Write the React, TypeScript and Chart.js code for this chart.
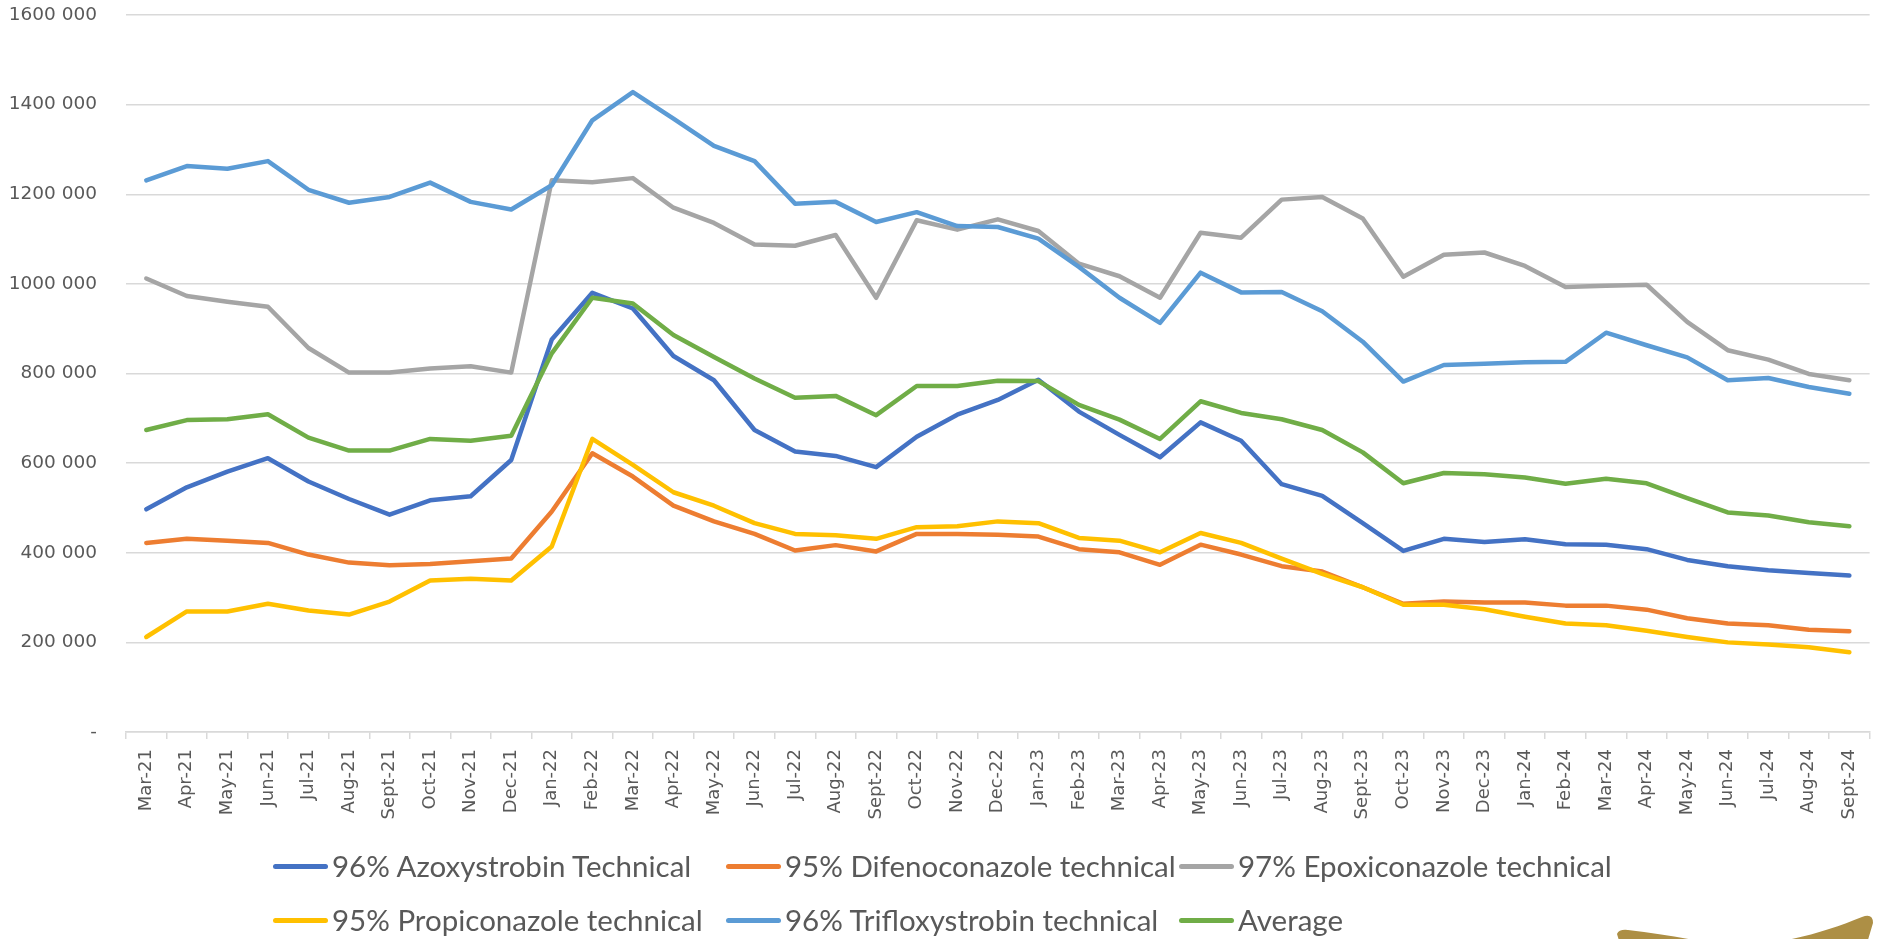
import React, { useEffect, useRef } from "react";
import { Chart, registerables } from "chart.js";

Chart.register(...registerables);

const months: string[] = [
  "Mar-21", "Apr-21", "May-21", "Jun-21", "Jul-21", "Aug-21", "Sept-21", "Oct-21", "Nov-21", "Dec-21",
  "Jan-22", "Feb-22", "Mar-22", "Apr-22", "May-22", "Jun-22", "Jul-22", "Aug-22", "Sept-22", "Oct-22", "Nov-22", "Dec-22",
  "Jan-23", "Feb-23", "Mar-23", "Apr-23", "May-23", "Jun-23", "Jul-23", "Aug-23", "Sept-23", "Oct-23", "Nov-23", "Dec-23",
  "Jan-24", "Feb-24", "Mar-24", "Apr-24", "May-24", "Jun-24", "Jul-24", "Aug-24", "Sept-24",
];

const azoxystrobin: number[] = [
  497000, 546000, 581000, 611000, 559000, 520000, 485000, 517000, 526000, 607000,
  876000, 980000, 945000, 839000, 785000, 674000, 626000, 616000, 591000, 659000, 708000, 741000,
  786000, 715000, 663000, 613000, 691000, 650000, 553000, 527000, 466000, 404000, 431000, 424000,
  430000, 419000, 418000, 408000, 384000, 370000, 361000, 355000, 349000,
];

const difenoconazole: number[] = [
  422000, 431000, 427000, 422000, 396000, 378000, 372000, 375000, 381000, 387000,
  492000, 622000, 570000, 505000, 470000, 442000, 405000, 417000, 403000, 442000, 442000, 440000,
  436000, 408000, 401000, 373000, 418000, 396000, 370000, 358000, 323000, 286000, 291000, 289000,
  289000, 282000, 282000, 273000, 254000, 242000, 238000, 228000, 225000,
];

const epoxiconazole: number[] = [
  1012000, 973000, 960000, 949000, 857000, 802000, 802000, 811000, 816000, 802000,
  1231000, 1227000, 1236000, 1170000, 1136000, 1088000, 1085000, 1109000, 969000, 1142000, 1121000, 1144000,
  1118000, 1045000, 1017000, 969000, 1114000, 1103000, 1188000, 1194000, 1146000, 1016000, 1065000, 1070000,
  1040000, 993000, 996000, 998000, 915000, 852000, 831000, 799000, 785000,
];

const propiconazole: number[] = [
  212000, 269000, 269000, 286000, 271000, 262000, 291000, 338000, 342000, 338000,
  414000, 654000, 596000, 535000, 505000, 466000, 442000, 439000, 431000, 457000, 459000, 470000,
  466000, 433000, 427000, 401000, 444000, 422000, 387000, 353000, 323000, 284000, 284000, 274000,
  257000, 242000, 238000, 226000, 212000, 200000, 195000, 189000, 178000,
];

const trifloxystrobin: number[] = [
  1231000, 1263000, 1257000, 1274000, 1210000, 1181000, 1194000, 1226000, 1183000, 1166000,
  1220000, 1365000, 1428000, 1369000, 1308000, 1274000, 1179000, 1183000, 1138000, 1160000, 1129000, 1127000,
  1101000, 1038000, 969000, 913000, 1025000, 981000, 982000, 939000, 871000, 782000, 819000, 822000,
  825000, 826000, 891000, 863000, 836000, 785000, 790000, 770000, 755000,
];

const average: number[] = [
  674000, 696000, 698000, 709000, 657000, 628000, 628000, 654000, 650000, 661000,
  845000, 969000, 956000, 886000, 837000, 789000, 746000, 750000, 707000, 772000, 772000, 784000,
  783000, 730000, 697000, 654000, 738000, 712000, 698000, 674000, 624000, 555000, 578000, 575000,
  568000, 554000, 565000, 555000, 522000, 490000, 483000, 468000, 459000,
];

const seriesNames: string[] = [
  "96% Azoxystrobin Technical",
  "95% Difenoconazole technical",
  "97% Epoxiconazole technical",
  "95% Propiconazole technical",
  "96% Trifloxystrobin technical",
  "Average",
];
const seriesColors: string[] = ["#4472C4", "#ED7D31", "#A5A5A5", "#FFC000", "#5B9BD5", "#70AD47"];
const seriesValues: number[][] = [azoxystrobin, difenoconazole, epoxiconazole, propiconazole, trifloxystrobin, average];

const yMin = 0;
const yMax = 1600000;
const yStep = 200000;

function formatTick(v: number): string {
  if (v === 0) return "-";
  const thousands = Math.floor(v / 1000);
  return thousands + " 000";
}

export default function App() {
  const canvasRef = useRef<HTMLCanvasElement | null>(null);

  useEffect(() => {
    const canvas = canvasRef.current;
    if (!canvas) return;
    const chart = new Chart(canvas, {
      type: "line",
      data: {
        labels: months,
        datasets: seriesValues.map((vals, i) => ({
          label: seriesNames[i],
          data: vals,
          borderColor: seriesColors[i],
          backgroundColor: seriesColors[i],
          borderWidth: 4.5,
          pointRadius: 0,
          pointHoverRadius: 0,
          tension: 0,
          fill: false,
          borderCapStyle: "round" as const,
          borderJoinStyle: "round" as const,
          order: seriesValues.length - 1 - i,
        })),
      },
      options: {
        responsive: false,
        animation: false,
        layout: { padding: { top: 15, right: 3, left: 0, bottom: 107 } },
        plugins: {
          legend: { display: false },
          tooltip: { enabled: false },
          title: { display: false },
        },
        scales: {
          x: {
            type: "category",
            offset: true,
            afterFit: (scale: any) => {
              scale.height = 100;
            },
            grid: {
              offset: true,
              drawOnChartArea: false,
              drawTicks: true,
              tickLength: 7,
              color: "#d9d9d9",
              lineWidth: 1.5,
            },
            border: { display: true, color: "#d9d9d9", width: 1.5 },
            ticks: {
              autoSkip: false,
              minRotation: 90,
              maxRotation: 90,
              padding: 10,
              color: "#595959",
              font: { family: "'DejaVu Sans'", size: 18 },
            },
          },
          y: {
            min: yMin,
            max: yMax,
            afterFit: (scale: any) => {
              scale.width = 126;
              scale.paddingTop = 0;
              scale.paddingBottom = 0;
            },
            grid: {
              color: "#d9d9d9",
              lineWidth: 1.5,
              drawTicks: false,
            },
            border: { display: false },
            ticks: {
              stepSize: yStep,
              padding: 29,
              color: "#595959",
              font: { family: "'DejaVu Sans'", size: 18.5 },
              callback: (v: any) => formatTick(Number(v)),
            },
          },
        },
      },
    });
    return () => chart.destroy();
  }, []);

  return (
    <div style={{ position: "fixed", left: 0, top: 0, width: 1881, height: 939, background: "#ffffff", overflow: "hidden" }}>
      <canvas ref={canvasRef} width={1881} height={939} style={{ position: "absolute", left: 0, top: 0, width: 1881, height: 939 }} />
      <div
        style={{
          position: "absolute",
          left: 273,
          top: 839,
          display: "grid",
          gridTemplateColumns: "453px 453px 453px",
          gridAutoRows: "54px",
        }}
      >
        {seriesNames.map((name, i) => (
          <div key={name} style={{ display: "flex", alignItems: "center", whiteSpace: "nowrap" }}>
            <span
              style={{
                display: "inline-block",
                width: 55,
                height: 5,
                borderRadius: 3,
                background: seriesColors[i],
                marginRight: 4,
              }}
            />
            <span style={{ fontFamily: "Lato, 'Open Sans', sans-serif", fontSize: 29.5, color: "#595959", lineHeight: "54px" }}>
              {name}
            </span>
          </div>
        ))}
      </div>
      <svg width={1881} height={939} style={{ position: "absolute", left: 0, top: 0, pointerEvents: "none" }}>
        <path
          d="M1617,934 Q1619,929 1628,930 C1675,935 1715,946 1745,945 C1790,943 1830,930 1862,917 Q1873,913 1873,923 L1862,960 L1625,960 Z"
          fill="#AD8F45"
        />
      </svg>
    </div>
  );
}
